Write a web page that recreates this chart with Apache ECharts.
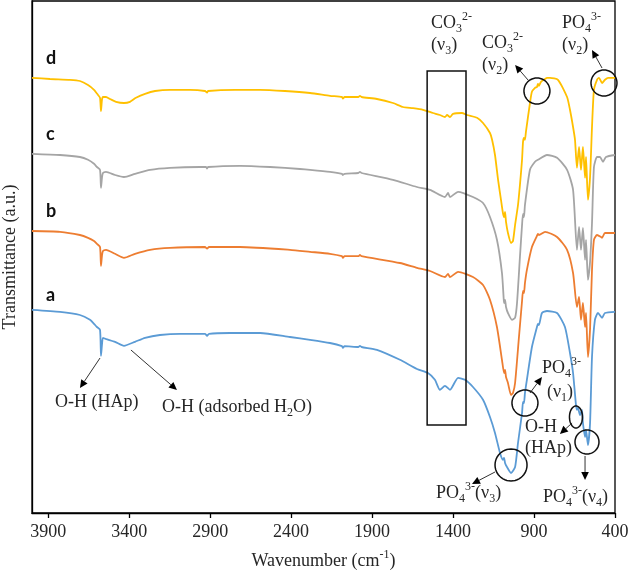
<!DOCTYPE html>
<html><head><meta charset="utf-8">
<script src="https://cdn.jsdelivr.net/npm/echarts@6/dist/echarts.min.js"></script>
<style>html,body{margin:0;padding:0;background:#fff}#c{width:629px;height:570px}</style>
</head><body><div id="c"></div>
<script>
// ---- data (wavenumber cm^-1, transmittance a.u.) ----
const xTicks = [3900, 3400, 2900, 2400, 1900, 1400, 900, 400];
const seriesNames = ['a', 'b', 'c', 'd'];
const seriesColors = ['#5B9BD5', '#ED7D31', '#A5A5A5', '#FFC000'];

const seriesA = [[4000,50.8],[3827,50.3],[3704,49.5],[3642,48.3],[3617,47.3],[3599,46.5],[3580,45.8],[3574,39.3],[3568,42],[3562,43.8],[3543,43.5],[3487,42.8],[3432,41.8],[3364,42.8],[3302,43.8],[3210,44.5],[3086,44.8],[2932,44.8],[2919,44.3],[2907,44.8],[2777,45],[2592,45],[2407,44],[2283,43.3],[2160,42.5],[2086,41.7],[2080,41.3],[2070,41.7],[1985,41.5],[1975,41.8],[1965,41.5],[1870,40.8],[1728,38.3],[1623,36],[1555,35],[1512,33.3],[1481,30.8],[1450,31.8],[1419,30.8],[1369,33.8],[1326,33.3],[1277,31.5],[1215,28.3],[1172,24],[1141,20],[1110,15],[1092,13.3],[1085,13.8],[1079,12.5],[1067,11.5],[1042,10],[1017,11.5],[999,17.5],[974,25],[968,27.8],[962,27.5],[956,30],[944,33.3],[913,41.5],[882,46.5],[876,47.3],[870,47],[851,50],[820,50.5],[758,50],[709,46.5],[678,40],[659,35],[641,27],[635,25.8],[629,26.3],[616,24.5],[604,25.8],[598,22.5],[585,19],[579,20.8],[567,17],[554,22.5],[542,39],[524,48.3],[505,50],[480,48.8],[462,50],[400,50.3]];

const seriesB = [[4000,70.5],[3827,70.3],[3704,69.5],[3654,68.8],[3617,68],[3599,67.3],[3580,66.5],[3574,61.8],[3568,64.3],[3562,65.5],[3543,65.8],[3487,64.8],[3432,63.8],[3364,64.8],[3271,65.8],[3148,66.3],[2932,66.5],[2919,66.1],[2907,66.5],[2716,66.5],[2407,65.8],[2283,65.3],[2160,64.8],[2086,64.2],[2080,63.8],[2070,64.2],[1985,64.2],[1975,64.5],[1965,64.2],[1728,62.5],[1623,61.3],[1542,60.5],[1450,59],[1431,59.8],[1419,59],[1369,60.3],[1277,59],[1215,57],[1172,53.3],[1129,46.5],[1098,38.3],[1085,35],[1079,35.8],[1073,34],[1061,32.5],[1042,29.5],[1030,30],[1017,32.5],[993,44],[974,53],[968,55.5],[962,55],[956,57.5],[944,60.8],[913,66.5],[882,69.3],[876,69.8],[870,69.5],[832,70.3],[758,69],[696,65.8],[659,60],[635,51.5],[622,54],[610,48.3],[598,52.5],[585,46.5],[579,50],[567,39],[554,46],[542,60.8],[530,68.3],[511,69.5],[486,69],[480,68.8],[462,70],[400,70]];

const seriesC = [[4000,89.8],[3827,89.5],[3704,89],[3654,88.3],[3617,87.3],[3599,86.5],[3580,85.8],[3574,81.3],[3568,83.8],[3562,85],[3543,85.3],[3487,84.5],[3432,84],[3364,84.8],[3271,85.8],[3148,86.3],[2963,86.5],[2925,86.5],[2919,86.1],[2913,86.5],[2716,86.8],[2530,86.5],[2345,86],[2283,85.8],[2160,85.3],[2086,84.8],[2080,84.5],[2070,84.8],[1985,85],[1975,85.3],[1965,85],[1771,83.3],[1623,81.5],[1542,80.8],[1450,79],[1431,80],[1419,79],[1369,80.3],[1277,79],[1215,77.5],[1172,74],[1129,68.3],[1098,60],[1088,54],[1085,52.5],[1079,53.3],[1073,51.5],[1061,50],[1036,48.3],[1017,48.8],[1005,52.5],[987,64],[974,72],[968,74.8],[962,74],[956,77],[925,85.8],[894,87.8],[876,88.3],[820,89.5],[758,88.8],[696,85.8],[659,80.8],[635,65.8],[622,71.5],[610,65.8],[598,71.3],[585,63.3],[579,68.3],[567,58.3],[554,62.8],[542,72.5],[530,86.5],[511,89],[493,89],[474,87.8],[456,89],[400,89.5]];

const seriesD = [[4000,108.8],[3889,108.5],[3765,108.3],[3704,108],[3654,107],[3617,105.8],[3592,104.5],[3580,103.8],[3574,100.5],[3568,103.3],[3562,104],[3543,104],[3518,103.5],[3481,102.8],[3432,102.5],[3395,102.8],[3358,103.8],[3302,104.8],[3240,105.5],[3148,105.8],[3024,105.8],[2932,105.5],[2919,105.1],[2913,105.5],[2746,105.8],[2592,105.8],[2438,105.5],[2283,105],[2160,104.3],[2086,104],[2080,103.6],[2070,104],[1985,104],[1975,104.3],[1965,104],[1870,103.5],[1771,102.5],[1709,101.5],[1647,101.2],[1586,100.8],[1524,100],[1481,99.5],[1450,99],[1437,99.5],[1419,99],[1400,99.8],[1345,100],[1314,99.5],[1252,98.8],[1215,97.5],[1172,95],[1159,93.3],[1141,89.5],[1122,83.3],[1104,78.3],[1092,75],[1085,74],[1079,75.3],[1073,72.8],[1061,70],[1042,67.5],[1030,68],[1017,72],[999,77],[987,82],[974,88.3],[968,92.8],[962,93.8],[956,93.3],[950,95.3],[925,102.5],[913,105.3],[894,106.3],[882,106.5],[876,107.3],[870,106.8],[857,107.8],[832,108.5],[820,108.8],[801,108.8],[752,108.3],[696,104],[678,100.8],[659,96.5],[647,93.3],[635,86.3],[622,91.5],[610,85.8],[598,91.5],[585,83.8],[579,89],[567,78.3],[554,84],[542,96.5],[530,105.8],[511,108.3],[499,108.8],[480,107.5],[462,108.3],[443,108.8],[400,108.8]];

const seriesData = [seriesA, seriesB, seriesC, seriesD];

// ---- annotation anchors (data units) ----
const labelAnchors = [[3914,54.5],[3914,75.5],[3914,94.75],[3914,113.75]];
const boxCorners = [[1560,110.5],[1320,22]];
const circleAnchors = [[882,105.5,13,13],[468,107.5,13,13],[956,27.5,13,13],[641,24,6.5,11],[573,17.75,12,12],[1042,12,16,16]];
const arrowAnchors = [
  [[937,108.25],[1017,112]], [[480,111.25],[542,115.75]],
  [[3580,38.75],[3704,31.25]], [[3389,40.75],[3105,30.75]],
  [[925,30],[851,34]], [[665,22.5],[740,19.75]],
  [[585,14.25],[585,8.25]], [[1141,10.25],[1283,7.25]]
];
const noteTexts = [
  [1536,122.5,'{n|CO}{sub|3}{sup|2-}'],
  [1536,117,'{n|(ν}{sub|3}{n|)}'],
  [1221,117.5,'{n|CO}{sub|3}{sup|2-}'],
  [1221,112,'{n|(ν}{sub|2}{n|)}'],
  [727,122.5,'{n|PO}{sub|4}{sup|3-}'],
  [727,117,'{n|(ν}{sub|2}{n|)}'],
  [851,36.25,'{n|PO}{sub|4}{sup|3-}'],
  [820,30.25,'{n|(ν}{sub|1}{n|)}'],
  [956,21.5,'{n|O-H}'],
  [956,16.25,'{n|(HAp)}'],
  [845,4,'{n|PO}{sub|4}{sup|3-}{n|(ν}{sub|4}{n|)}'],
  [1505,5,'{n|PO}{sub|4}{sup|3-}{n|(ν}{sub|3}{n|)}'],
  [3858,27.75,'{n|O-H (HAp)}'],
  [3197,26.5,'{n|O-H (adsorbed H}{sub|2}{n|O)}']
];

const SERIF = '"Liberation Serif","Times New Roman",serif';
const TXT = '#262626';
const rich = {
  n: {fontSize: 18, fontFamily: SERIF, color: TXT, lineHeight: 24},
  sub: {fontSize: 12, fontFamily: SERIF, color: TXT, lineHeight: 12, verticalAlign: 'bottom'},
  sup: {fontSize: 12, fontFamily: SERIF, color: TXT, lineHeight: 12, verticalAlign: 'top'}
};

const chart = echarts.init(document.getElementById('c'), null, {renderer: 'canvas'});
chart.setOption({
  animation: false,
  backgroundColor: '#fff',
  grid: {left: 32, right: 14, top: 1, bottom: 57, show: true, borderColor: '#000', borderWidth: 1.3,
    containLabel: false, outerBoundsMode: 'none'},
  xAxis: {
    type: 'value', min: 400, max: 4000, inverse: true,
    name: '{n|Wavenumber (cm}{sup|-1}{n|)}', nameLocation: 'middle', nameGap: 36,
    nameTextStyle: {rich: rich},
    axisLine: {show: true, lineStyle: {color: '#000', width: 1.3}},
    axisTick: {show: true, customValues: xTicks, length: 5, inside: false, lineStyle: {color: '#000', width: 1.3}},
    axisLabel: {customValues: xTicks, fontSize: 18, fontFamily: SERIF, color: TXT, margin: 10,
      formatter: v => String(v)},
    splitLine: {show: false}
  },
  yAxis: {
    type: 'value', min: 0, max: 128,
    name: 'Transmittance (a.u.)', nameLocation: 'middle', nameGap: 13,
    nameTextStyle: {fontSize: 18, fontFamily: SERIF, color: TXT},
    axisLine: {show: true, lineStyle: {color: '#000', width: 1.3}},
    axisTick: {show: false}, axisLabel: {show: false}, splitLine: {show: false}
  },
  series: seriesData.map((d, i) => ({
    name: seriesNames[i], type: 'line', data: d, showSymbol: false, symbol: 'none',
    smooth: 0.2, lineStyle: {color: seriesColors[i], width: 1.8}, z: 2 + i
  }))
});

function P(w, v) { return chart.convertToPixel({gridIndex: 0}, [w, v]); }
const g = [];
labelAnchors.forEach((a, i) => {
  const p = P(a[0], a[1]);
  g.push({type: 'text', x: p[0], y: p[1], z: 100, silent: true,
    style: {text: seriesNames[i], font: 'bold 18px Lato, "Open Sans", sans-serif', fill: '#111', align: 'left', verticalAlign: 'middle'}});
});
{
  const a = P(boxCorners[0][0], boxCorners[0][1]), b = P(boxCorners[1][0], boxCorners[1][1]);
  g.push({type: 'rect', z: 100, silent: true,
    shape: {x: Math.min(a[0], b[0]), y: Math.min(a[1], b[1]), width: Math.abs(b[0] - a[0]), height: Math.abs(b[1] - a[1])},
    style: {fill: 'none', stroke: '#111', lineWidth: 1.5}});
}
circleAnchors.forEach(c => {
  const p = P(c[0], c[1]);
  const pts = [];
  for (let k = 0; k < 48; k++) { const t = k / 48 * Math.PI * 2; pts.push([p[0] + c[2] * Math.cos(t), p[1] + c[3] * Math.sin(t)]); }
  g.push({type: 'polygon', z: 100, silent: true, shape: {points: pts}, style: {fill: 'none', stroke: '#111', lineWidth: 1.5}});
});
arrowAnchors.forEach(ar => {
  const p0 = P(ar[0][0], ar[0][1]), p1 = P(ar[1][0], ar[1][1]);
  const dx = p1[0] - p0[0], dy = p1[1] - p0[1], L = Math.hypot(dx, dy), ux = dx / L, uy = dy / L;
  const hl = 8, hw = 3.8, bx = p1[0] - ux * hl, by = p1[1] - uy * hl;
  g.push({type: 'line', z: 100, silent: true, shape: {x1: p0[0], y1: p0[1], x2: bx, y2: by}, style: {stroke: '#333', lineWidth: 1}});
  g.push({type: 'polygon', z: 100, silent: true, shape: {points: [[p1[0], p1[1]], [bx - uy * hw, by + ux * hw], [bx + uy * hw, by - ux * hw]]}, style: {fill: '#000'}});
});
noteTexts.forEach(t => {
  const p = P(t[0], t[1]);
  g.push({type: 'text', x: p[0], y: p[1], z: 100, silent: true,
    style: {text: t[2], rich: rich, fontSize: 18, fontFamily: SERIF, fill: TXT, align: 'left', verticalAlign: 'middle'}});
});
chart.setOption({graphic: g});
</script>
</body></html>
